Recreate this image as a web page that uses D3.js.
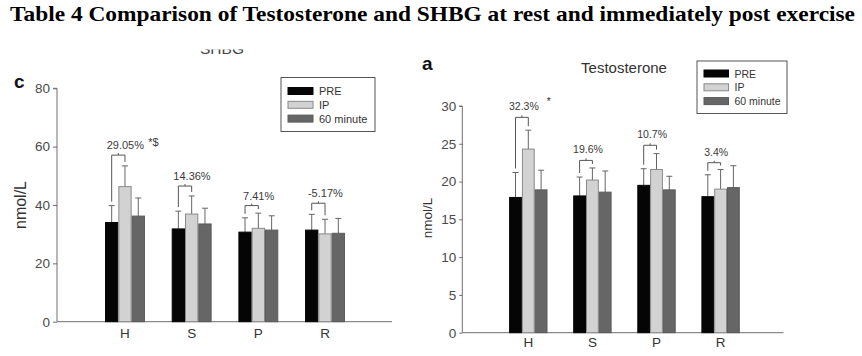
<!DOCTYPE html>
<html>
<head>
<meta charset="utf-8">
<script src="https://cdn.jsdelivr.net/npm/d3@7"></script>
<style>
  html, body { margin: 0; padding: 0; background: #fff; }
  svg { display: block; }
  text { font-family: "Liberation Sans", Arial, sans-serif; }
</style>
</head>
<body>
<svg id="chart" width="862" height="356"></svg>
<script>
// ---------- data ----------
const categories = ["H", "S", "P", "R"];
const seriesNames = ["PRE", "IP", "60 minute"];

// SHBG (panel c)
const shbgPre = [34.0, 31.8, 30.7, 31.4];
const shbgIP = [46.3, 36.9, 32.0, 30.1];
const shbg60 = [36.2, 33.5, 31.4, 30.3];
const shbgPreErr = [5.8, 6.1, 4.9, 5.4];
const shbgIPErr = [7.1, 6.2, 5.2, 5.0];
const shbg60Err = [6.2, 5.4, 4.9, 5.1];
const shbgChange = ["29.05%", "14.36%", "7.41%", "-5.17%"];
const shbgSig = ["*$", "", "", ""];
const shbgBracketLevel = [57.1, 46.5, 39.8, 40.6];
const shbgTicks = [0, 20, 40, 60, 80];

// Testosterone (panel a)
const testoPre = [17.9, 18.1, 19.5, 18.0];
const testoIP = [24.3, 20.2, 21.6, 19.0];
const testo60 = [18.9, 18.6, 18.9, 19.2];
const testoPreErr = [3.3, 2.5, 2.2, 2.9];
const testoIPErr = [2.5, 1.6, 2.1, 2.6];
const testo60Err = [2.6, 2.8, 1.8, 2.9];
const testoChange = ["32.3%", "19.6%", "10.7%", "3.4%"];
const testoSig = ["*", "", "", ""];
const testoBracketLevel = [28.5, 22.8, 24.8, 22.5];
const testoTicks = [0, 5, 10, 15, 20, 25, 30];

const mainTitle = "Table 4 Comparison of Testosterone and SHBG at rest and immediately post exercise";

// ---------- styles ----------
const fills = ["#050505", "#d2d2d2", "#666666"];
const strokes = ["#050505", "#8a8a8a", "#5a5a5a"];
const textColor = "#3a3a3a";
const lineColor = "#6e6e6e";

const svg = d3.select("#chart");
svg.append("rect").attr("width", 862).attr("height", 356).attr("fill", "#fff");

// main title
svg.append("text")
  .attr("x", 10).attr("y", 21)
  .style("font-family", "'Liberation Serif', 'Times New Roman', serif")
  .style("font-weight", "bold")
  .style("font-size", "21px")
  .attr("fill", "#000")
  .attr("textLength", 845)
  .attr("lengthAdjust", "spacingAndGlyphs")
  .text(mainTitle);

function panel(cfg) {
  const g = svg.append("g");
  const y = d3.scaleLinear().domain(cfg.domain).range([cfg.yBottom, cfg.yTop]);
  const x = d3.scalePoint().domain(categories).range(cfg.xRange).padding(1);
  const inner = d3.scaleBand().domain(seriesNames)
    .range([-1.5 * cfg.barW, 1.5 * cfg.barW]).padding(0);

  // axes
  const yAxis = d3.axisLeft(y).tickValues(cfg.ticks).tickSize(cfg.tickSize)
    .tickPadding(cfg.tickPad).tickFormat(d3.format("d"));
  const ya = g.append("g").attr("transform", `translate(${cfg.axisX0},0)`).call(yAxis);
  ya.select(".domain").attr("stroke", lineColor);
  ya.selectAll(".tick line").attr("stroke", lineColor);
  ya.selectAll(".tick text").attr("fill", "#4a4a4a")
    .style("font-size", cfg.tickFont + "px")
    .style("font-family", "'Liberation Sans', Arial, sans-serif");
  ya.select(".domain").attr("d", `M${-cfg.tickSize},${cfg.yTop}H0V${cfg.yBottom}`);

  g.append("line")
    .attr("x1", cfg.axisX0).attr("x2", cfg.axisX1)
    .attr("y1", y(0)).attr("y2", y(0))
    .attr("stroke", lineColor).attr("stroke-width", 1);

  // x labels
  g.selectAll("text.xl").data(categories).join("text")
    .attr("class", "xl")
    .attr("x", d => x(d)).attr("y", cfg.yBottom + cfg.xLabelDy)
    .attr("text-anchor", "middle")
    .attr("fill", "#333")
    .style("font-size", cfg.xFont + "px")
    .text(d => d);

  // bars
  const series = cfg.values.map((vals, si) => ({ name: seriesNames[si], si, vals, errs: cfg.errs[si] }));
  series.forEach(s => {
    const gs = g.append("g");
    const recs = categories.map((c, i) => ({ c, v: s.vals[i], e: s.errs[i] }));
    gs.selectAll("line.err").data(recs).join("line")
      .attr("x1", d => x(d.c) + inner(s.name) + cfg.barW / 2)
      .attr("x2", d => x(d.c) + inner(s.name) + cfg.barW / 2)
      .attr("y1", d => y(d.v)).attr("y2", d => y(d.v + d.e))
      .attr("stroke", "#666").attr("stroke-width", 1);
    gs.selectAll("line.cap").data(recs).join("line")
      .attr("x1", d => x(d.c) + inner(s.name) + cfg.barW / 2 - 3)
      .attr("x2", d => x(d.c) + inner(s.name) + cfg.barW / 2 + 3)
      .attr("y1", d => y(d.v + d.e)).attr("y2", d => y(d.v + d.e))
      .attr("stroke", "#666").attr("stroke-width", 1);
    gs.selectAll("rect").data(recs).join("rect")
      .attr("x", d => x(d.c) + inner(s.name) + 0.5)
      .attr("width", cfg.barW - 1)
      .attr("y", d => y(d.v))
      .attr("height", d => y(0) - y(d.v))
      .attr("fill", fills[s.si])
      .attr("stroke", strokes[s.si]).attr("stroke-width", 1);
  });

  // brackets
  categories.forEach((c, i) => {
    const xl = x(c) + inner(seriesNames[0]) + cfg.barW / 2;
    const xr = x(c) + inner(seriesNames[1]) + cfg.barW / 2;
    const yt = y(cfg.bracket[i]);
    const yl = y(cfg.values[0][i] + cfg.errs[0][i]) - 4;
    const yr = y(cfg.values[1][i] + cfg.errs[1][i]) - 4;
    const xm = (xl + xr) / 2;
    g.append("path")
      .attr("d", `M${xl},${yl}V${yt}H${xr}V${yr}M${xm},${yt}V${yt - 2}`)
      .attr("fill", "none").attr("stroke", "#555").attr("stroke-width", 1);
    const lbl = g.append("text")
      .attr("x", xm + cfg.labelDx).attr("y", yt - cfg.labelGap)
      .attr("text-anchor", "middle")
      .attr("fill", textColor)
      .style("font-size", cfg.pctFont + "px")
      .text(cfg.change[i]);
    if (cfg.sig[i]) {
      const bb = lbl.node().getBBox();
      g.append("text")
        .attr("x", bb.x + bb.width + cfg.sigGap).attr("y", yt - cfg.labelGap - cfg.sigRise)
        .attr("fill", textColor)
        .style("font-size", cfg.pctFont + "px")
        .text(cfg.sig[i]);
    }
  });

  // legend
  const lg = g.append("g");
  lg.append("rect")
    .attr("x", cfg.legend.x).attr("y", cfg.legend.y)
    .attr("width", cfg.legend.w).attr("height", cfg.legend.h)
    .attr("fill", "#fff").attr("stroke", "#555").attr("stroke-width", 1);
  seriesNames.forEach((n, i) => {
    const cy = cfg.legend.y + cfg.legend.row0 + i * cfg.legend.rowH;
    lg.append("rect")
      .attr("x", cfg.legend.x + 7).attr("y", cy - 3.5)
      .attr("width", cfg.legend.sw).attr("height", 7)
      .attr("fill", fills[i]).attr("stroke", strokes[i]).attr("stroke-width", 1);
    lg.append("text")
      .attr("x", cfg.legend.x + 7 + cfg.legend.sw + 6).attr("y", cy + 4)
      .attr("fill", "#333")
      .style("font-size", cfg.legend.font + "px")
      .text(n);
  });

  // y label
  g.append("text")
    .attr("transform", `translate(${cfg.yLabelX},${cfg.yLabelY}) rotate(-90)`)
    .attr("text-anchor", "middle")
    .attr("fill", "#333")
    .style("font-size", cfg.yLabelFont + "px")
    .text("nmol/L");

  // panel letter
  g.append("text")
    .attr("x", cfg.letterX).attr("y", cfg.letterY)
    .attr("fill", "#111")
    .style("font-size", "19px").style("font-weight", "bold")
    .text(cfg.letter);

  return g;
}

// panel c: SHBG
panel({
  domain: [0, 80], yTop: 88.3, yBottom: 321.7,
  xRange: [58.3, 391.7], axisX0: 57, axisX1: 392,
  barW: 13.3, ticks: shbgTicks, tickSize: 4, tickPad: 3, tickFont: 13.5,
  xFont: 13.5, xLabelDy: 16,
  values: [shbgPre, shbgIP, shbg60], errs: [shbgPreErr, shbgIPErr, shbg60Err],
  bracket: shbgBracketLevel, change: shbgChange, sig: shbgSig,
  labelDx: 7, labelGap: 6, pctFont: 11, sigGap: 4, sigRise: 3,
  legend: { x: 281, y: 77.5, w: 94, h: 54, row0: 13.5, rowH: 13.8, sw: 25, font: 11 },
  yLabelX: 26, yLabelY: 205, yLabelFont: 16,
  letter: "c", letterX: 14, letterY: 88
});

// panel a: Testosterone
panel({
  domain: [0, 30], yTop: 106, yBottom: 332.7,
  xRange: [464.2, 784.7], axisX0: 462.3, axisX1: 783.5,
  barW: 12.8, ticks: testoTicks, tickSize: 3, tickPad: 3, tickFont: 13.5,
  xFont: 13.5, xLabelDy: 14,
  values: [testoPre, testoIP, testo60], errs: [testoPreErr, testoIPErr, testo60Err],
  bracket: testoBracketLevel, change: testoChange, sig: testoSig,
  labelDx: 2, labelGap: 7, pctFont: 10.5, sigGap: 8, sigRise: 5,
  legend: { x: 697, y: 61, w: 90, h: 52.5, row0: 12.5, rowH: 13.8, sw: 24.5, font: 10.5 },
  yLabelX: 432, yLabelY: 218, yLabelFont: 13.5,
  letter: "a", letterX: 422, letterY: 70
});

// panel titles
svg.append("text")
  .attr("x", 624).attr("y", 73)
  .attr("text-anchor", "middle")
  .attr("fill", "#333")
  .style("font-size", "15px")
  .text("Testosterone");

// partially cropped "SHBG" title (only its bottom edge is visible)
svg.append("clipPath").attr("id", "shbgClip")
  .append("rect").attr("x", 150).attr("y", 49.5).attr("width", 150).attr("height", 20);
svg.append("text")
  .attr("x", 222).attr("y", 54)
  .attr("text-anchor", "middle")
  .attr("fill", "#444")
  .attr("clip-path", "url(#shbgClip)")
  .style("font-size", "15.5px")
  .text("SHBG");
</script>
</body>
</html>
